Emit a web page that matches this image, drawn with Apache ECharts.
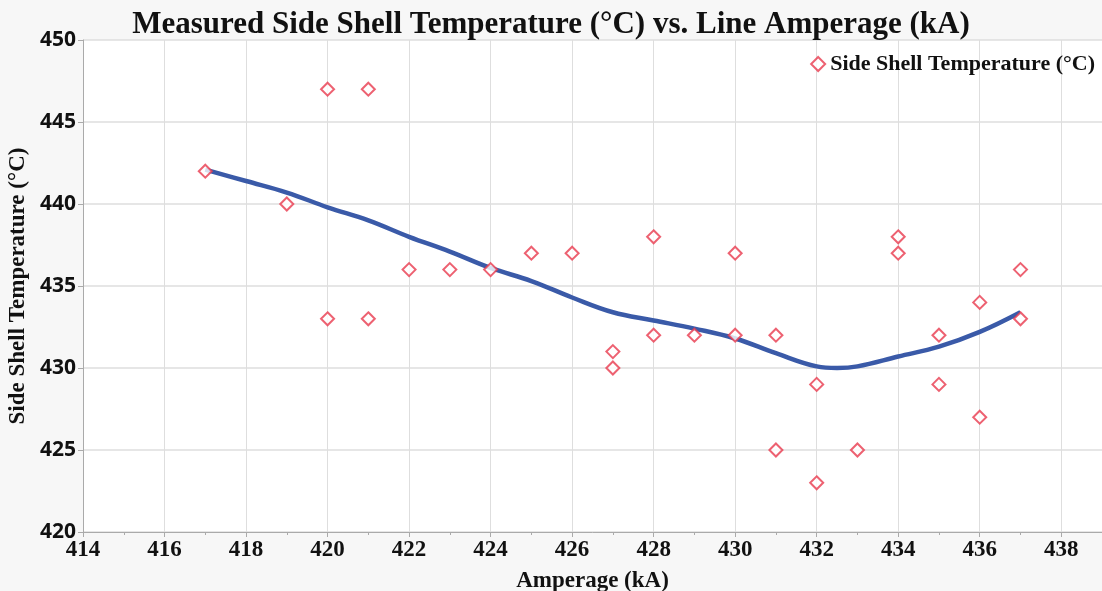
<!DOCTYPE html>
<html>
<head>
<meta charset="utf-8">
<script src="https://cdn.jsdelivr.net/npm/echarts@6/dist/echarts.min.js"></script>
<style>
  html, body { margin: 0; padding: 0; background: #f7f7f7; }
  #chart { width: 1102px; height: 591px; }
</style>
</head>
<body>
<div id="chart"></div>
<script>
// measured points
const amperage = [417, 419, 420, 421, 420, 421, 422, 423, 424, 425, 426, 427, 427, 428, 428, 429,
  430, 430, 431, 431, 432, 432, 433, 434, 434, 435, 435, 436, 436, 437, 437]
const shellTemp = [442, 440, 447, 447, 433, 433, 436, 436, 436, 437, 437, 431, 430, 438, 432, 432,
  437, 432, 432, 425, 429, 423, 425, 438, 437, 432, 429, 434, 427, 436, 433]

// smoothed fit line
const fitX = [417, 418, 419, 420, 421, 422, 423, 424, 425, 426, 427, 428, 429, 430, 431, 432, 432.5, 433, 434, 435, 436, 437]
const fitY = [442.1, 441.4, 440.7, 439.8, 439.0, 438.0, 437.1, 436.1, 435.3, 434.3, 433.4, 432.9, 432.4, 431.8, 430.9, 430.1, 430.0, 430.1, 430.7, 431.3, 432.2, 433.4]

const serif = 'Liberation Serif'

const chart = echarts.init(document.getElementById('chart'))

const option = {
  backgroundColor: '#f7f7f7',
  animation: false,
  title: {
    text: 'Measured Side Shell Temperature (°C) vs. Line Amperage (kA)',
    left: 'center',
    top: 4,
    textStyle: { fontFamily: serif, fontSize: 31, fontWeight: 'bold', color: '#111' },
  },
  legend: {
    data: ['Side Shell Temperature (°C)'],
    right: 2,
    top: 48,
    itemWidth: 14,
    itemHeight: 14,
    itemGap: 4,
    textStyle: { fontFamily: serif, fontSize: 22, fontWeight: 'bold', color: '#111' },
  },
  grid: {
    left: 83,
    right: 0,
    top: 40,
    bottom: 59,
    outerBoundsMode: 'none',
    show: true,
    backgroundColor: '#fff',
    borderWidth: 0,
  },
  xAxis: {
    type: 'value',
    min: 414,
    max: 439,
    interval: 2,
    name: 'Amperage (kA)',
    nameLocation: 'middle',
    nameGap: 38,
    nameTextStyle: { fontFamily: serif, fontSize: 23, fontWeight: 'bold', color: '#111' },
    axisLine: { show: true, lineStyle: { color: '#aaa' } },
    axisTick: { show: true, length: 5, lineStyle: { color: '#aaa' } },
    minorTick: { show: true, splitNumber: 2, length: 3, lineStyle: { color: '#aaa' } },
    axisLabel: {
      showMaxLabel: false,
      margin: 7,
      fontFamily: serif, fontSize: 23, fontWeight: 'bold', color: '#111',
    },
    splitLine: { show: true, lineStyle: { color: '#dedede' } },
  },
  yAxis: {
    type: 'value',
    min: 420,
    max: 450,
    interval: 5,
    name: 'Side Shell Temperature (°C)',
    nameLocation: 'middle',
    nameGap: 52,
    nameTextStyle: { fontFamily: serif, fontSize: 23, fontWeight: 'bold', color: '#111' },
    axisLine: { show: true, lineStyle: { color: '#aaa' } },
    axisTick: { show: true, length: 5, lineStyle: { color: '#aaa' } },
    axisLabel: {
      margin: 7,
      fontFamily: 'Open Sans', fontSize: 21, fontWeight: 'bold', color: '#111',
    },
    splitLine: { show: true, lineStyle: { color: '#dedede', width: 1.5 } },
  },
  series: [
    {
      name: 'Fit',
      type: 'line',
      data: fitX.map((x, i) => [x, fitY[i]]),
      smooth: 0.4,
      showSymbol: false,
      lineStyle: { color: '#3a5aa8', width: 4.5 },
      z: 2,
    },
    {
      name: 'Side Shell Temperature (°C)',
      type: 'scatter',
      data: amperage.map((x, i) => [x, shellTemp[i]]),
      symbol: 'emptyDiamond',
      symbolSize: 13,
      itemStyle: { color: '#e8394e', borderColor: '#e8394e', borderWidth: 1.5 },
      z: 3,
    },
  ],
}

chart.setOption(option)
</script>
</body>
</html>
